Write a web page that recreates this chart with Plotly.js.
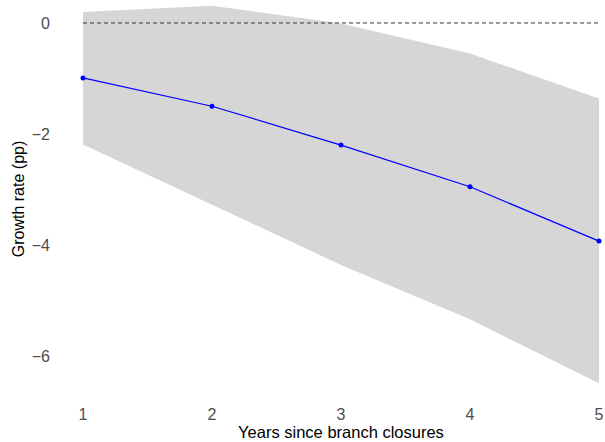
<!DOCTYPE html>
<html>
<head>
<meta charset="utf-8">
<script src="https://cdn.plot.ly/plotly-3.0.1.min.js"></script>
<style>html,body{margin:0;padding:0;background:#fff;}#chart{width:605px;height:442px;}</style>
</head>
<body>
<div id="chart"></div>
<script>
const years = [1, 2, 3, 4, 5];
const estimate = [-0.99, -1.50, -2.20, -2.95, -3.93];
const upper = [0.20, 0.31, -0.01, -0.55, -1.36];
const lower = [-2.19, -3.28, -4.36, -5.34, -6.49];
const zeroLine = [0, 0, 0, 0, 0];

const traces = [
  {x: years, y: lower, type: 'scatter', mode: 'lines', line: {width: 0, color: 'rgba(0,0,0,0)'}, hoverinfo: 'skip', showlegend: false},
  {x: years, y: upper, type: 'scatter', mode: 'lines', fill: 'tonexty', fillcolor: '#d6d6d6', line: {width: 0, color: 'rgba(0,0,0,0)'}, hoverinfo: 'skip', showlegend: false},
  {x: years, y: zeroLine, type: 'scatter', mode: 'lines', line: {color: '#333333', width: 1, dash: '4px,3px'}, showlegend: false},
  {x: years, y: estimate, type: 'scatter', mode: 'lines+markers', line: {color: '#0000ff', width: 1.2}, marker: {color: '#0000ff', size: 5}, showlegend: false}
];

const layout = {
  width: 605, height: 442,
  margin: {l: 77, r: 0, t: 0, b: 44},
  paper_bgcolor: '#ffffff', plot_bgcolor: '#ffffff',
  showlegend: false,
  font: {family: 'Liberation Sans, Arial, sans-serif', size: 16, color: '#000'},
  xaxis: {
    range: [0.9535, 5.0465],
    tickvals: years, ticktext: ['1', '2', '3', '4', '5'],
    showgrid: false, zeroline: false, showline: false, ticks: '',
    tickfont: {size: 16, color: '#4d4d4d'},
    ticklabelstandoff: 5,
    title: {text: 'Years since branch closures', font: {size: 16.5, color: '#000'}, standoff: 1}
  },
  yaxis: {
    range: [-6.757, 0.414],
    tickvals: [0, -2, -4, -6], ticktext: ['0', '\u22122', '\u22124', '\u22126'],
    showgrid: false, zeroline: false, showline: false, ticks: '',
    tickfont: {size: 16, color: '#4d4d4d'},
    ticklabelstandoff: 26,
    title: {text: 'Growth rate (pp)', font: {size: 16, color: '#000'}, standoff: 3}
  }
};

Plotly.newPlot('chart', traces, layout, {displayModeBar: false, staticPlot: true});
</script>
</body>
</html>
